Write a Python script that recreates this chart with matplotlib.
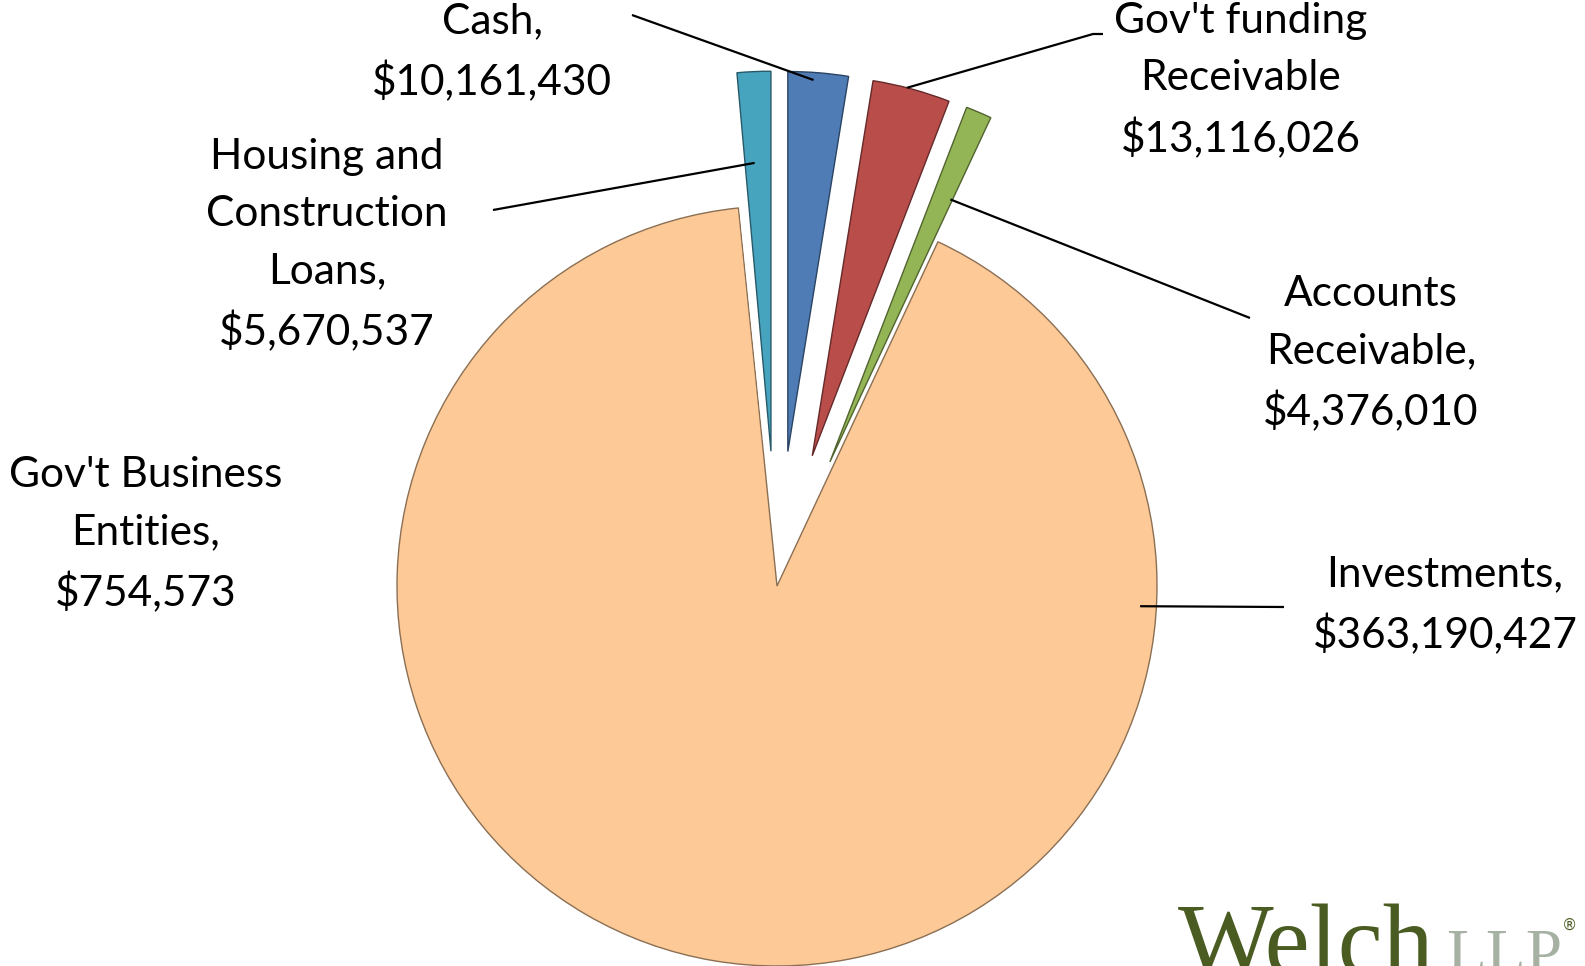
import numpy as np
import matplotlib
matplotlib.use("Agg")
import matplotlib.pyplot as plt
from matplotlib.colors import to_rgb

# data, in the order the slices go clockwise from 12 o'clock
names = ["Cash", "Gov't funding Receivable", "Accounts Receivable", "Investments",
         "Gov't Business Entities", "Housing and Construction Loans"]
values = [10161430, 13116026, 4376010, 363190427, 754573, 5670537]
label_txt = ["Cash,\n$10,161,430", "Gov't funding\nReceivable\n$13,116,026",
             "Accounts\nReceivable,\n$4,376,010", "Investments,\n$363,190,427",
             "Gov't Business\nEntities,\n$754,573", "Housing and\nConstruction\nLoans,\n$5,670,537"]
colors = ["#4F7CB5", "#B84D4A", "#94B556", "#FDC997", "white", "#47A4BF"]
explode = [0.355, 0.355, 0.355, 0, 0.355, 0.355]

W, H = 1585, 966
CX, CY, R = 777, 586, 380  # pie centre / radius in pixels

def px(x, y):
    return (x - CX) / R, (CY - y) / R

plt.rcParams['font.family'] = ['Lato', 'DejaVu Sans']
fig = plt.figure(figsize=(W / 100, H / 100), dpi=100)
ax = fig.add_axes([0, 0, 1, 1])

wedges, _ = ax.pie(values, explode=explode, colors=colors, startangle=90,
                   counterclock=False, radius=1, center=(0, 0))
ax.set_xlim(-CX / R, (W - CX) / R)
ax.set_ylim(-(H - CY) / R, CY / R)
ax.set_aspect('equal')
ax.axis('off')

for w, c in zip(wedges, colors):
    if c == "white":
        w.set_edgecolor("none")
        continue
    w.set_edgecolor(tuple(v * 0.55 for v in to_rgb(c)))
    w.set_linewidth(1.0)

def anchor(i, t, rr):
    w = wedges[i]
    th = np.radians(w.theta1 + t * (w.theta2 - w.theta1))
    cx, cy = w.center
    return cx + rr * np.cos(th), cy + rr * np.sin(th)

# label block centre (px), leader start points (px), anchor on wedge (t, r)
label_pos = [(492, 52), (1241, 81), (1371, 354), (1445, 605), (146, 535), (327, 245)]
leaders = {
    0: ([(632, 15)], (0.57, 0.98)),
    1: ([(1103, 34), (1093, 34)], (0.56, 1.0)),
    2: ([(1250, 318)], (0.1, 0.76)),
    3: ([(1284, 607)], (0.793, 0.957)),
    5: ([(493, 210)], (0.63, 0.76)),
}

for i, (lx, ly) in enumerate(label_pos):
    x, y = px(lx, ly)
    ax.text(x, y, label_txt[i], ha='center', va='center', fontsize=30.5,
            linespacing=1.61, color='black')

for i, (pts, (t, rr)) in leaders.items():
    xs = [px(*p)[0] for p in pts]
    ys = [px(*p)[1] for p in pts]
    ax_, ay_ = anchor(i, t, rr)
    ax.plot(xs + [ax_], ys + [ay_], color='black', lw=1.6, solid_capstyle='butt')

# logo
fig.text(1178 / W, 1 - 974 / H, "Welch", fontsize=73, family='Liberation Serif',
         color='#4A5C22', va='baseline', ha='left')
fig.text(1446 / W, 1 - 974 / H, "LLP", fontsize=47, family='Liberation Serif',
         color='#A6B0A3', va='baseline', ha='left')
fig.text(1569 / W, 1 - 925 / H, "®", fontsize=11, family='DejaVu Sans',
         color='#4A5C22', va='center', ha='center')

fig.savefig("out.png", dpi=100)
